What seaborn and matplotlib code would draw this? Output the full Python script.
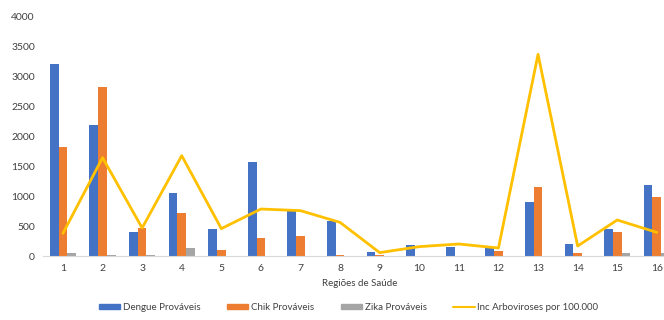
import matplotlib
matplotlib.use('Agg')
import matplotlib.pyplot as plt
import matplotlib.patches as mpatches
import matplotlib.lines as mlines
import numpy as np
import pandas as pd
import seaborn as sns

# data
regioes = [str(i) for i in range(1, 17)]
dengue = [3200, 2180, 400, 1045, 456, 1572, 756, 589, 67, 183, 156, 144, 900, 194, 456, 1178]
chik = [1822, 2817, 467, 722, 100, 300, 339, 22, 22, 0, 0, 78, 1144, 56, 400, 978]
zika = [44, 22, 22, 128, 0, 0, 0, 0, 0, 0, 0, 0, 0, 0, 50, 44]
inc = [378, 1639, 467, 1672, 456, 783, 756, 560, 56, 156, 200, 133, 3361, 167, 600, 394]

series_names = ['Dengue Prováveis', 'Chik Prováveis', 'Zika Prováveis']
line_name = 'Inc Arboviroses por 100.000'
colors = ['#4472C4', '#ED7D31', '#A5A5A5']
line_color = '#FFC000'

df = pd.DataFrame({
    'regiao': regioes * 3,
    'serie': np.repeat(series_names, len(regioes)),
    'valor': dengue + chik + zika,
})

sns.set_style('white')
plt.rcParams['font.family'] = ['Lato', 'DejaVu Sans']

fig = plt.figure(figsize=(6.64, 3.2), dpi=100)
ax = fig.add_axes([0.065, 0.2, 0.954, 0.75])

sns.barplot(data=df, x='regiao', y='valor', hue='serie', palette=colors,
            width=0.66, ax=ax, legend=False, saturation=1, linewidth=0)
sns.lineplot(x=np.arange(len(regioes)), y=inc, color=line_color, linewidth=2, ax=ax)

ax.set_xlim(-0.5, len(regioes) - 0.5)
ax.set_ylim(0, 4000)
ax.set_yticks(range(0, 4001, 500))
ax.tick_params(axis='both', labelsize=7.5, colors='#404040', length=0, pad=6)
ax.set_xlabel('Regiões de Saúde', fontsize=7, color='#404040', labelpad=4)
ax.set_ylabel('')

for side in ['top', 'right', 'left']:
    ax.spines[side].set_visible(False)
ax.spines['bottom'].set_color('#D9D9D9')

handles = [mpatches.Patch(color=c, label=n) for c, n in zip(colors, series_names)]
handles.append(mlines.Line2D([], [], color=line_color, linewidth=1.5, label=line_name))
fig.legend(handles=handles, loc='center', bbox_to_anchor=(0.525, 0.04), ncol=4,
           frameon=False, fontsize=7, handlelength=2.2, handleheight=0.45,
           columnspacing=2.7, handletextpad=0.3, labelcolor='#404040')

fig.savefig('out.png', dpi=100)
